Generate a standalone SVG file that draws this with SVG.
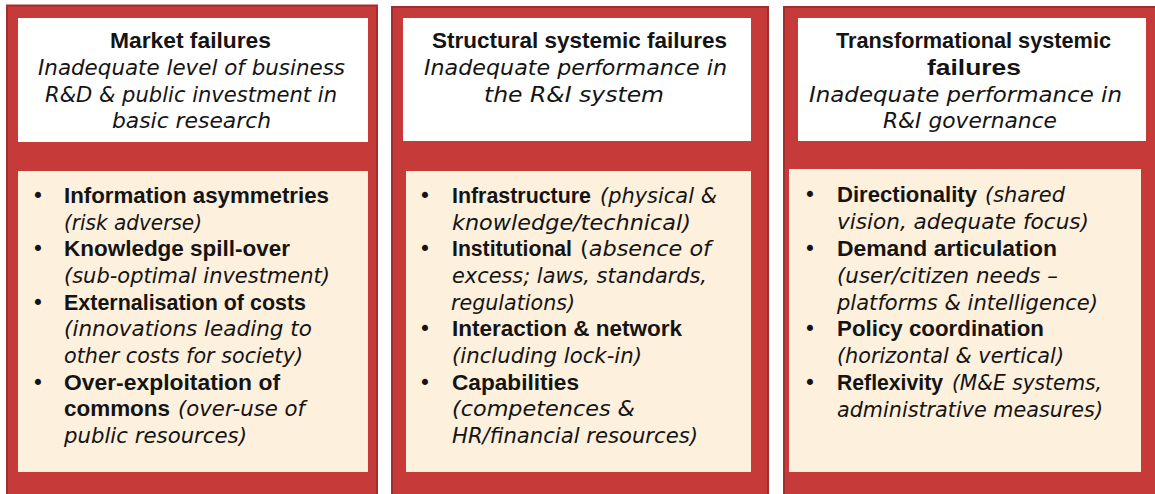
<svg xmlns="http://www.w3.org/2000/svg" width="1155" height="494" viewBox="0 0 1155 494">
  <style>
    .panel { fill: #C63A3A; stroke: #A22E2F; stroke-width: 2; }
    .head { fill: #FFFFFF; }
    .body { fill: #FDF0DD; }
    text { font-family: "DejaVu Sans", "Liberation Sans", sans-serif; font-size: 21px; fill: #141414; }
    .b { font-family: "Liberation Sans", "DejaVu Sans", sans-serif; font-weight: bold; font-size: 22px; }
    .i { font-style: italic; }
    .n { font-style: normal; }
    .dot { text-anchor: middle; }
  </style>
  <rect width="1155" height="494" fill="#FFFFFF"/>

  <!-- Column 1: market failures -->
  <g id="market-failures">
    <rect class="panel" x="7" y="5.5" width="370" height="492"/>
    <rect class="head" x="18" y="18" width="350" height="124"/>
    <text class="b" x="110" y="48" textLength="161" lengthAdjust="spacingAndGlyphs">Market failures</text>
    <text class="i" x="38" y="75" textLength="307" lengthAdjust="spacingAndGlyphs">Inadequate level of business</text>
    <text class="i" x="45" y="101.5" textLength="292" lengthAdjust="spacingAndGlyphs">R&amp;D &amp; public investment in</text>
    <text class="i" x="112" y="128" textLength="159" lengthAdjust="spacingAndGlyphs">basic research</text>

    <rect class="body" x="18" y="171" width="350" height="301"/>
    <text class="dot" x="38" y="203">•</text>
    <text class="b" x="64" y="203" textLength="265" lengthAdjust="spacingAndGlyphs">Information asymmetries</text>
    <text class="i" x="64" y="229.5" textLength="138" lengthAdjust="spacingAndGlyphs">(risk adverse)</text>
    <text class="dot" x="38" y="256">•</text>
    <text class="b" x="64" y="256" textLength="226" lengthAdjust="spacingAndGlyphs">Knowledge spill-over</text>
    <text class="i" x="64" y="283" textLength="266" lengthAdjust="spacingAndGlyphs">(sub-optimal investment)</text>
    <text class="dot" x="38" y="309.5">•</text>
    <text class="b" x="64" y="309.5" textLength="242" lengthAdjust="spacingAndGlyphs">Externalisation of costs</text>
    <text class="i" x="64" y="336" textLength="248" lengthAdjust="spacingAndGlyphs">(innovations leading to</text>
    <text class="i" x="64" y="363" textLength="239" lengthAdjust="spacingAndGlyphs">other costs for society)</text>
    <text class="dot" x="38" y="389.5">•</text>
    <text class="b" x="64" y="389.5" textLength="216" lengthAdjust="spacingAndGlyphs">Over-exploitation of</text>
    <text class="b" x="64" y="416" textLength="106" lengthAdjust="spacingAndGlyphs">commons</text>
    <text class="i" x="178" y="416" textLength="127" lengthAdjust="spacingAndGlyphs">(over-use of</text>
    <text class="i" x="64" y="443" textLength="183" lengthAdjust="spacingAndGlyphs">public resources)</text>
  </g>

  <!-- Column 2: structural systemic failures -->
  <g id="structural-failures">
    <rect class="panel" x="392" y="7" width="376" height="490"/>
    <rect class="head" x="403" y="18" width="348" height="123"/>
    <text class="b" x="432" y="48" textLength="295" lengthAdjust="spacingAndGlyphs">Structural systemic failures</text>
    <text class="i" x="424" y="75" textLength="303" lengthAdjust="spacingAndGlyphs">Inadequate performance in</text>
    <text class="i" x="484" y="101.5" textLength="180" lengthAdjust="spacingAndGlyphs">the R&amp;I system</text>

    <rect class="body" x="406" y="171" width="345" height="301"/>
    <text class="dot" x="425" y="203">•</text>
    <text class="b" x="452" y="203" textLength="139" lengthAdjust="spacingAndGlyphs">Infrastructure</text>
    <text class="i" x="600" y="203" textLength="117" lengthAdjust="spacingAndGlyphs">(physical &amp;</text>
    <text class="i" x="452" y="229.5" textLength="239" lengthAdjust="spacingAndGlyphs">knowledge/technical)</text>
    <text class="dot" x="425" y="256">•</text>
    <text class="b" x="452" y="256" textLength="120" lengthAdjust="spacingAndGlyphs">Institutional</text>
    <text x="580" y="256" textLength="131" lengthAdjust="spacingAndGlyphs"><tspan class="n">(</tspan><tspan class="i">absence of</tspan></text>
    <text class="i" x="452" y="283" textLength="255" lengthAdjust="spacingAndGlyphs">excess; laws, standards,</text>
    <text class="i" x="451" y="309.5" textLength="124" lengthAdjust="spacingAndGlyphs">regulations)</text>
    <text class="dot" x="425" y="336">•</text>
    <text class="b" x="452" y="336" textLength="230" lengthAdjust="spacingAndGlyphs">Interaction &amp; network</text>
    <text class="i" x="452" y="363" textLength="190" lengthAdjust="spacingAndGlyphs">(including lock-in)</text>
    <text class="dot" x="425" y="389.5">•</text>
    <text class="b" x="452" y="389.5" textLength="127" lengthAdjust="spacingAndGlyphs">Capabilities</text>
    <text class="i" x="452" y="416" textLength="183" lengthAdjust="spacingAndGlyphs">(competences &amp;</text>
    <text class="i" x="452" y="443" textLength="246" lengthAdjust="spacingAndGlyphs">HR/financial resources)</text>
  </g>

  <!-- Column 3: transformational systemic failures -->
  <g id="transformational-failures">
    <rect class="panel" x="784" y="7" width="380" height="490"/>
    <rect class="head" x="798" y="18" width="348" height="123"/>
    <text class="b" x="836" y="48" textLength="275" lengthAdjust="spacingAndGlyphs">Transformational systemic</text>
    <text class="b" x="927" y="75" textLength="94" lengthAdjust="spacingAndGlyphs">failures</text>
    <text class="i" x="809" y="101.5" textLength="313" lengthAdjust="spacingAndGlyphs">Inadequate performance in</text>
    <text class="i" x="883" y="128" textLength="174" lengthAdjust="spacingAndGlyphs">R&amp;I governance</text>

    <rect class="body" x="789" y="169" width="352" height="303"/>
    <text class="dot" x="810" y="202">•</text>
    <text class="b" x="837" y="202" textLength="140" lengthAdjust="spacingAndGlyphs">Directionality</text>
    <text class="i" x="985" y="202" textLength="80" lengthAdjust="spacingAndGlyphs">(shared</text>
    <text class="i" x="837" y="229" textLength="252" lengthAdjust="spacingAndGlyphs">vision, adequate focus)</text>
    <text class="dot" x="810" y="256">•</text>
    <text class="b" x="837" y="256" textLength="220" lengthAdjust="spacingAndGlyphs">Demand articulation</text>
    <text class="i" x="837" y="283" textLength="221" lengthAdjust="spacingAndGlyphs">(user/citizen needs –</text>
    <text class="i" x="837" y="309.5" textLength="261" lengthAdjust="spacingAndGlyphs">platforms &amp; intelligence)</text>
    <text class="dot" x="810" y="336">•</text>
    <text class="b" x="837" y="336" textLength="207" lengthAdjust="spacingAndGlyphs">Policy coordination</text>
    <text class="i" x="837" y="363" textLength="227" lengthAdjust="spacingAndGlyphs">(horizontal &amp; vertical)</text>
    <text class="dot" x="810" y="390">•</text>
    <text class="b" x="837" y="390" textLength="106" lengthAdjust="spacingAndGlyphs">Reflexivity</text>
    <text class="i" x="952" y="390" textLength="150" lengthAdjust="spacingAndGlyphs">(M&amp;E systems,</text>
    <text class="i" x="837" y="417" textLength="266" lengthAdjust="spacingAndGlyphs">administrative measures)</text>
  </g>
</svg>
